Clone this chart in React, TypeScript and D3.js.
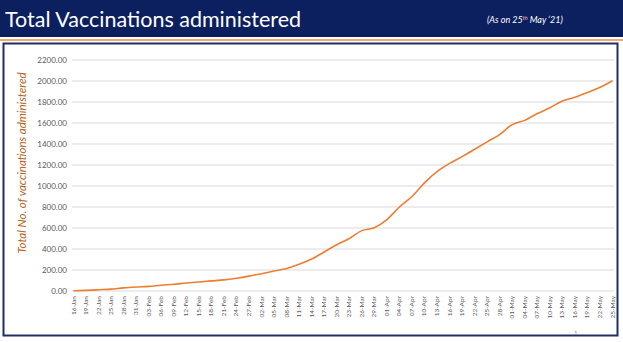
import React from "react";
import * as d3 from "d3";

const dateLabels = [
  "16-Jan","19-Jan","22-Jan","25-Jan","28-Jan","31-Jan",
  "03-Feb","06-Feb","09-Feb","12-Feb","15-Feb","18-Feb","21-Feb","24-Feb","27-Feb",
  "02-Mar","05-Mar","08-Mar","11-Mar","14-Mar","17-Mar","20-Mar","23-Mar","26-Mar","29-Mar",
  "01-Apr","04-Apr","07-Apr","10-Apr","13-Apr","16-Apr","19-Apr","22-Apr","25-Apr","28-Apr",
  "01-May","04-May","07-May","10-May","13-May","16-May","19-May","22-May","25-May",
];

const vaccinations = [
  2, 6, 12, 18, 30, 38,
  44, 55, 64, 76, 86, 96, 106, 122, 142,
  165, 190, 215, 255, 305, 372, 440, 500, 575, 603,
  680, 800, 900, 1030, 1136, 1215, 1280, 1350, 1420, 1490,
  1585, 1625, 1690, 1745, 1810, 1845, 1890, 1940, 2003,
];

const yTicks = [0, 200, 400, 600, 800, 1000, 1200, 1400, 1600, 1800, 2000, 2200];

const W = 623;
const H = 342;

export default function App() {
  const x = d3.scalePoint<string>().domain(dateLabels).range([73.5, 612.5]);
  const y = d3.scaleLinear().domain([0, 2200]).range([291, 60]);
  const data = dateLabels.map((d, i) => ({ d, v: vaccinations[i] }));
  const line = d3
    .line<{ d: string; v: number }>()
    .x((p) => x(p.d) as number)
    .y((p) => y(p.v))
    .curve(d3.curveMonotoneX);

  return (
    <svg
      width={W}
      height={H}
      style={{ position: "absolute", left: 0, top: 0, display: "block", background: "#fff" }}
    >
      <rect x={0} y={0} width={W} height={37} fill="#0c1f5e" />
      <text
        x={5}
        y={27}
        fill="#ffffff"
        fontFamily="Lato, 'Open Sans', sans-serif"
        fontSize={21.5}
      >
        Total Vaccinations administered
      </text>
      <text
        x={487}
        y={23}
        fill="#ffffff"
        fontFamily="Lato, 'Open Sans', sans-serif"
        fontSize={9}
        fontStyle="italic"
      >
        (As on 25<tspan fontSize={5.5} dy={-3} fill="#f2b8c6">th</tspan>
        <tspan dy={3}> May ‘21)</tspan>
      </text>
      <rect x={0} y={39} width={W} height={2} fill="#f2a96e" />
      <rect x={3.5} y={43.5} width={614} height={292} fill="none" stroke="#1f2f66" strokeWidth={2} />

      {yTicks.map((t) => (
        <g key={t}>
          <line x1={72} x2={614} y1={y(t)} y2={y(t)} stroke="#d9d9d9" strokeWidth={1} />
          <text
            x={67}
            y={y(t) + 2.8}
            textAnchor="end"
            fill="#595959"
            fontFamily="Lato, 'Open Sans', sans-serif"
            fontSize={8}
          >
            {t.toFixed(2)}
          </text>
        </g>
      ))}

      {dateLabels.map((d) => (
        <text
          key={d}
          transform={`translate(${(x(d) as number) + 2},296) rotate(-90)`}
          textAnchor="end"
          fill="#595959"
          fontFamily="Lato, 'Open Sans', sans-serif"
          fontSize={6.5}
        >
          {d}
        </text>
      ))}

      <text
        transform="translate(26,163) rotate(-90)"
        textAnchor="middle"
        fill="#b5651d"
        fontFamily="Lato, 'Open Sans', sans-serif"
        fontSize={11.5}
        fontStyle="italic"
      >
        Total No. of vaccinations administered
      </text>

      <path d={line(data) ?? ""} fill="none" stroke="#ed7d31" strokeWidth={1.6} />

      <text
        x={574}
        y={335}
        fill="#8c8c8c"
        fontFamily="Lato, sans-serif"
        fontSize={6}
      >
        1
      </text>
    </svg>
  );
}
